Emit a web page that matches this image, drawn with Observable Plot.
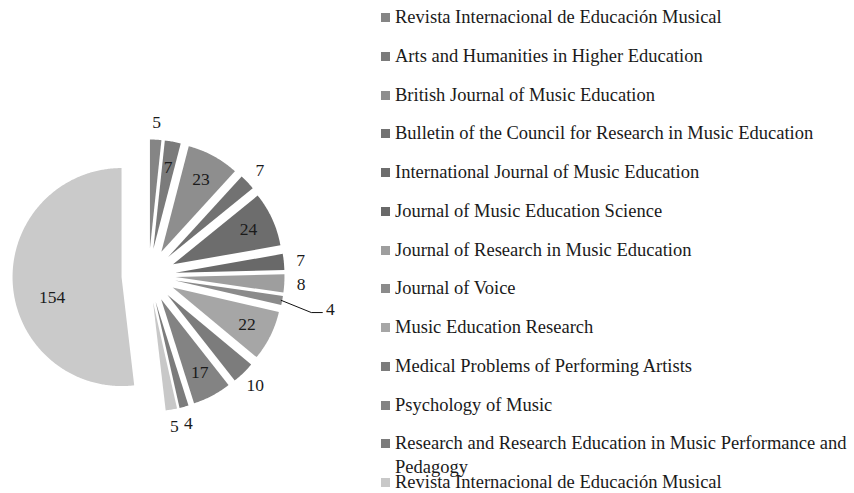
<!DOCTYPE html>
<html>
<head>
<meta charset="utf-8">
<script src="https://cdn.jsdelivr.net/npm/d3@7"></script>
<script src="https://cdn.jsdelivr.net/npm/@observablehq/plot@0.6"></script>
<style>
  html, body { margin: 0; padding: 0; background: #fff; }
  #wrap { position: relative; width: 854px; height: 493px; overflow: hidden; font-family: "Liberation Serif", "Times New Roman", serif; color: #1a1a1a; }
  #chart { position: absolute; left: 0; top: 0; }
  .row { position: absolute; left: 381px; display: flex; align-items: flex-start; line-height: 24px; font-size: 18.5px; }
  .sw { width: 9px; height: 9px; margin-top: 8px; flex: none; }
  .lab { margin-left: 5px; width: 462px; }
</style>
</head>
<body>
<div id="wrap"><div id="chart"></div><div id="legend"></div></div>
<script>
// ---- data ----
const sliceValues = [5, 7, 23, 7, 24, 7, 8, 4, 22, 10, 17, 4, 5, 154];
const sliceColors = ["#858585", "#7b7b7b", "#8e8e8e", "#727272", "#6d6d6d", "#696969", "#9e9e9e",
                     "#8b8b8b", "#a6a6a6", "#7c7c7c", "#838383", "#7c7c7c", "#c8c8c8", "#cacaca"];
const labelPlacement = ["outside", "inside", "inside", "outside", "inside", "outside", "outside",
                        "leader", "inside", "outside", "inside", "outside", "outside", "inside"];
const legendLabels = [
  "Revista Internacional de Educación Musical",
  "Arts and Humanities in Higher Education",
  "British Journal of Music Education",
  "Bulletin of the Council for Research in Music Education",
  "International Journal of Music Education",
  "Journal of Music Education Science",
  "Journal of Research in Music Education",
  "Journal of Voice",
  "Music Education Research",
  "Medical Problems of Performing Artists",
  "Psychology of Music",
  "Research and Research Education in Music Performance and Pedagogy",
  "Revista Internacional de Educación Musical"
];

// ---- layout ----
const W = 370, H = 493;
const cx = 148, cy = 275, R = 109, EXPLODE = 27;

const arcs = d3.pie().sort(null).value(d => d)(sliceValues);
const pt = (a, r, ox = 0, oy = 0) => [cx + ox + r * Math.sin(a), cy + oy - r * Math.cos(a)];

const slices = arcs.map((a, i) => {
  const mid = (a.startAngle + a.endAngle) / 2;
  const ox = EXPLODE * Math.sin(mid), oy = -EXPLODE * Math.cos(mid);
  const ring = [[cx + ox, cy + oy]];
  const n = Math.max(2, Math.ceil((a.endAngle - a.startAngle) / 0.01));
  for (let k = 0; k <= n; k++) {
    const t = a.startAngle + (a.endAngle - a.startAngle) * k / n;
    ring.push(pt(t, R, ox, oy));
  }
  ring.push(ring[0]);
  return {type: "Feature", properties: {i, value: a.data}, geometry: {type: "Polygon", coordinates: [ring]}};
});

const labels = arcs.map((a, i) => {
  const span = a.endAngle - a.startAngle;
  let mid = (a.startAngle + a.endAngle) / 2;
  const place = labelPlacement[i];
  let r = place === "inside" ? EXPLODE + 0.76 * R : place === "outside" ? EXPLODE + R + 17 : EXPLODE + R + 49;
  // best-fit placement for a slice wider than a half turn
  if (place === "inside" && span > Math.PI) { mid -= 0.17; r = EXPLODE + 0.66 * R; }
  const [x, y] = pt(mid, r);
  return {x, y, text: String(a.data), place, mid};
});

const leaders = labels.filter(l => l.place === "leader").map(l => {
  const p0 = pt(l.mid, EXPLODE + R - 1);
  return {type: "Feature", properties: {}, geometry: {type: "LineString",
    coordinates: [p0, [l.x - 19, l.y + 3], [l.x - 8, l.y + 3]]}};
});

const chart = Plot.plot({
  width: W,
  height: H,
  margin: 0,
  projection: {type: "identity"},
  color: {type: "ordinal", domain: d3.range(sliceValues.length), range: sliceColors},
  marks: [
    Plot.geo(slices, {fill: d => d.properties.i, stroke: "none"}),
    Plot.geo(leaders, {stroke: "#111", strokeWidth: 1}),
    Plot.text(labels, {x: "x", y: "y", text: "text", fontSize: 17.5, fontFamily: "Liberation Serif", fill: "#1a1a1a"})
  ]
});
document.getElementById("chart").appendChild(chart);

// ---- legend ----
const legend = document.getElementById("legend");
legendLabels.forEach((name, i) => {
  const row = document.createElement("div");
  row.className = "row";
  row.style.top = (17 + i * 38.75 - 12) + "px";
  const sw = document.createElement("span");
  sw.className = "sw";
  sw.style.background = sliceColors[i];
  const lab = document.createElement("span");
  lab.className = "lab";
  lab.textContent = name;
  row.appendChild(sw);
  row.appendChild(lab);
  legend.appendChild(row);
});
</script>
</body>
</html>
